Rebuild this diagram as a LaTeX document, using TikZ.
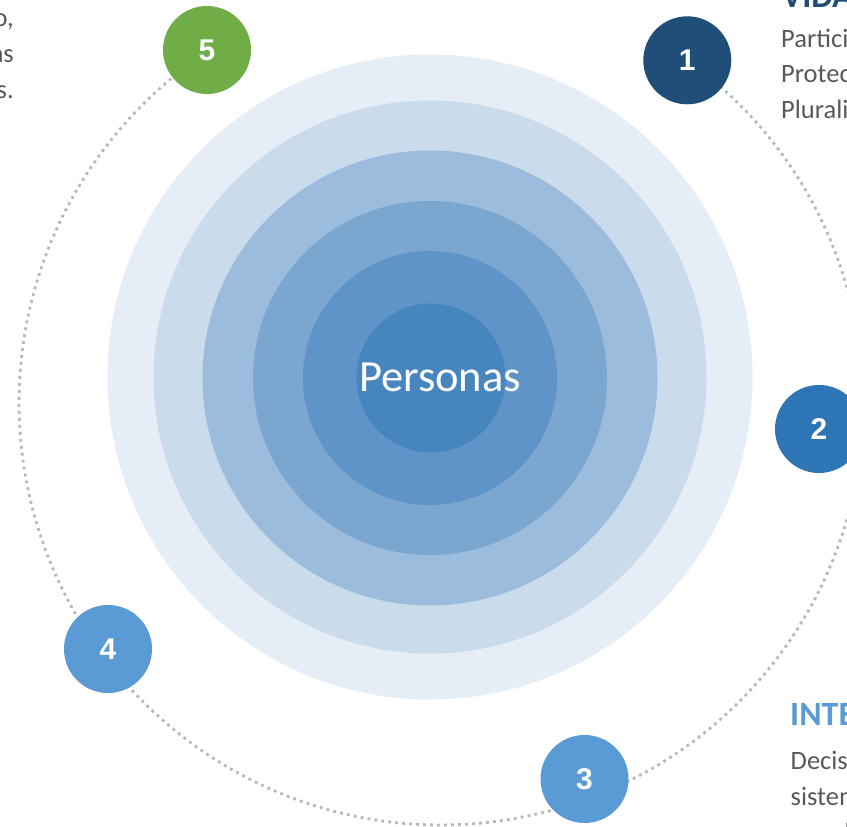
\documentclass[tikz,border=0pt]{standalone}
\usepackage{fontspec}
\setmainfont{Carlito}
\newfontfamily\numfont{Liberation Sans}
\definecolor{ring1}{HTML}{E5EDF6}
\definecolor{ring2}{HTML}{CADBEB}
\definecolor{ring3}{HTML}{9BBCDC}
\definecolor{ring4}{HTML}{7AA6D0}
\definecolor{ring5}{HTML}{5E94C8}
\definecolor{ring6}{HTML}{4785BF}
\definecolor{cone}{HTML}{1F4E79}
\definecolor{ctwo}{HTML}{2E75B6}
\definecolor{cthree}{HTML}{5B9BD5}
\definecolor{cfive}{HTML}{70AD47}
\definecolor{dotgray}{HTML}{B8B8B8}
\definecolor{txtgray}{HTML}{595959}
\tikzset{
  disc/.style={circle, inner sep=0pt, draw=none, minimum size=#1},
  badge/.style={circle, inner sep=0pt, minimum size=88pt, text=white,
    font=\numfont\bfseries\fontsize{30}{30}\selectfont},
  orbitline/.style={draw=dotgray, line width=2.8pt,
    dash pattern=on 2.8pt off 4.2pt},
  body/.style={anchor=base west, inner sep=0pt, text=txtgray,
    font=\fontsize{26.5}{30}\selectfont},
  bodyr/.style={anchor=base east, inner sep=0pt, text=txtgray,
    font=\fontsize{26.5}{30}\selectfont},
  head/.style={anchor=base west, inner sep=0pt,
    font=\bfseries\fontsize{34}{36}\selectfont}
}
\begin{document}
\begin{tikzpicture}[x=1pt,y=-1pt]
\useasboundingbox (0,0) rectangle (847,827);
\clip (0,0) rectangle (847,827);
\fill[white] (0,0) rectangle (847,827);
% concentric rings
\node[disc=645pt, fill=ring1] (r1) at (430,377) {};
\node[disc=553pt, fill=ring2] (r2) at (430,377) {};
\node[disc=455pt, fill=ring3] (r3) at (430,378) {};
\node[disc=354pt, fill=ring4] (r4) at (430,378) {};
\node[disc=254pt, fill=ring5] (r5) at (430,378) {};
\node[disc=149pt, fill=ring6] (r6) at (431,378) {};
\node[anchor=base, inner sep=0pt, text=white, font=\fontsize{44.5}{44.5}\selectfont] (lbl) at (440,391) {Personas};
% badge centres
\coordinate (c1) at (687.3,60.3);
\coordinate (c2) at (819,429);
\coordinate (c3) at (584.5,779);
\coordinate (c4) at (108,649);
\coordinate (c5) at (207,50);
% dotted orbit from badge 1 round to badge 5
\draw[orbitline] (c1) arc[start angle=-54.3, end angle=236.5, radius=422];
% badges
\node[badge, fill=cone] (b1) at (c1) {1};
\node[badge, fill=ctwo] (b2) at (c2) {2};
\node[badge, fill=cthree] (b3) at (c3) {3};
\node[badge, fill=cthree] (b4) at (c4) {4};
\node[badge, fill=cfive] (b5) at (c5) {5};
% cut-off texts, top left
\node[bodyr] (tl1) at (14,26) {o,};
\node[bodyr] (tl2) at (14,62) {ns};
\node[bodyr] (tl3) at (14,98) {s.};
% top right
\node[head, text=cone] (h1) at (782,8) {VIDA};
\node[body] (t1) at (781,47) {Participa};
\node[body] (t2) at (781,82) {Protecci};
\node[body] (t3) at (781,118) {Pluralis};
% bottom right
\node[head, text=cthree] (h2) at (790,725) {INTE};
\node[body] (t4) at (790.5,769) {Decisi};
\node[body] (t5) at (790.5,805) {sistem};
\node[body] (t6) at (790.5,841) {para la};
\end{tikzpicture}
\end{document}
